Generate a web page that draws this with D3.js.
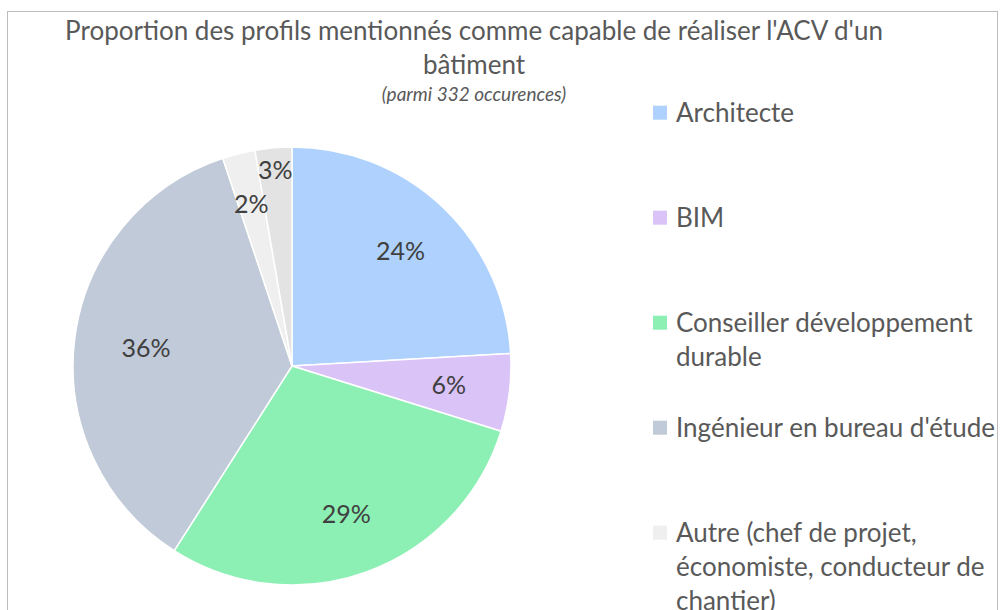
<!DOCTYPE html>
<html>
<meta charset="utf-8">
<script src="https://d3js.org/d3.v7.min.js"></script>
<style>
  body { margin: 0; background: #fff; }
  text { font-family: Lato, "Open Sans", sans-serif; }
</style>
<body>
<div id="chart"></div>
<script>
  // data (332 occurrences)
  var profils = ["Architecte", "BIM", "Conseiller développement durable",
                 "Ingénieur en bureau d'étude",
                 "Autre (chef de projet, économiste, conducteur de chantier)",
                 "Non renseigné"];
  var legendLines = [["Architecte"], ["BIM"], ["Conseiller développement", "durable"],
                     ["Ingénieur en bureau d'étude"],
                     ["Autre (chef de projet,", "économiste, conducteur de", "chantier)"],
                     ["Non renseigné"]];
  var occurences = [80, 19, 97, 119, 8, 9];
  var couleurs = ["#aed2fd", "#dac3f7", "#8cefb4", "#c0cad8", "#efefef", "#e3e3e3"];
  var titre = ["Proportion des profils mentionnés comme capable de réaliser l'ACV d'un", "bâtiment"];
  var sousTitre = "(parmi 332 occurences)";

  var width = 1001, height = 610;
  var svg = d3.select("#chart").append("svg")
    .attr("width", width)
    .attr("height", height);

  // chart frame
  svg.append("rect")
    .attr("x", 7.5).attr("y", 11.5)
    .attr("width", 990).attr("height", 620)
    .attr("fill", "none")
    .attr("stroke", "#bdbdbd");

  // title
  svg.selectAll(".titre")
    .data(titre)
    .enter().append("text")
    .attr("x", 474)
    .attr("y", (d, i) => 40 + i * 34)
    .attr("text-anchor", "middle")
    .style("font-size", "26px")
    .style("fill", "#595959")
    .text(d => d);

  svg.append("text")
    .attr("x", 474).attr("y", 101)
    .attr("text-anchor", "middle")
    .style("font-size", "19px")
    .style("font-style", "italic")
    .style("fill", "#595959")
    .text(sousTitre);

  // pie
  var cx = 292, cy = 366, radius = 219;
  var total = d3.sum(occurences);
  var pie = d3.pie().sort(null).value(d => d);
  var arcs = pie(occurences);
  var arc = d3.arc().innerRadius(0).outerRadius(radius);

  var g = svg.append("g").attr("transform", "translate(" + cx + "," + cy + ")");

  g.selectAll("path")
    .data(arcs)
    .enter().append("path")
    .attr("d", arc)
    .attr("fill", (d, i) => couleurs[i])
    .attr("stroke", "#fff")
    .attr("stroke-width", 1.5);

  // labels: small neighbouring slices pushed outward
  g.selectAll(".lbl")
    .data(arcs)
    .enter().append("text")
    .attr("transform", function(d, i) {
      var a = (d.startAngle + d.endAngle) / 2;
      var r = 158;
      if (i === 3) r = 147;
      if (i === 4) r = 167;
      if (i === arcs.length - 1) r = 196;
      return "translate(" + (Math.sin(a) * r) + "," + (-Math.cos(a) * r) + ")";
    })
    .attr("dy", "0.35em")
    .attr("text-anchor", "middle")
    .style("font-size", "25px")
    .style("fill", "#404040")
    .text(d => Math.round(d.value / total * 100) + "%");

  // legend
  var leg = svg.selectAll(".leg")
    .data(profils)
    .enter().append("g")
    .attr("transform", (d, i) => "translate(653," + (121.7 + i * 105) + ")");

  leg.append("rect")
    .attr("x", 0).attr("y", -16)
    .attr("width", 14).attr("height", 14)
    .attr("fill", (d, i) => couleurs[i]);

  leg.append("text")
    .attr("x", 23)
    .style("font-size", "26px")
    .style("fill", "#595959")
    .selectAll("tspan")
    .data((d, i) => legendLines[i])
    .enter().append("tspan")
    .attr("x", 23)
    .attr("dy", (d, j) => j === 0 ? 0 : 34)
    .text(d => d);
</script>
</body>
</html>
